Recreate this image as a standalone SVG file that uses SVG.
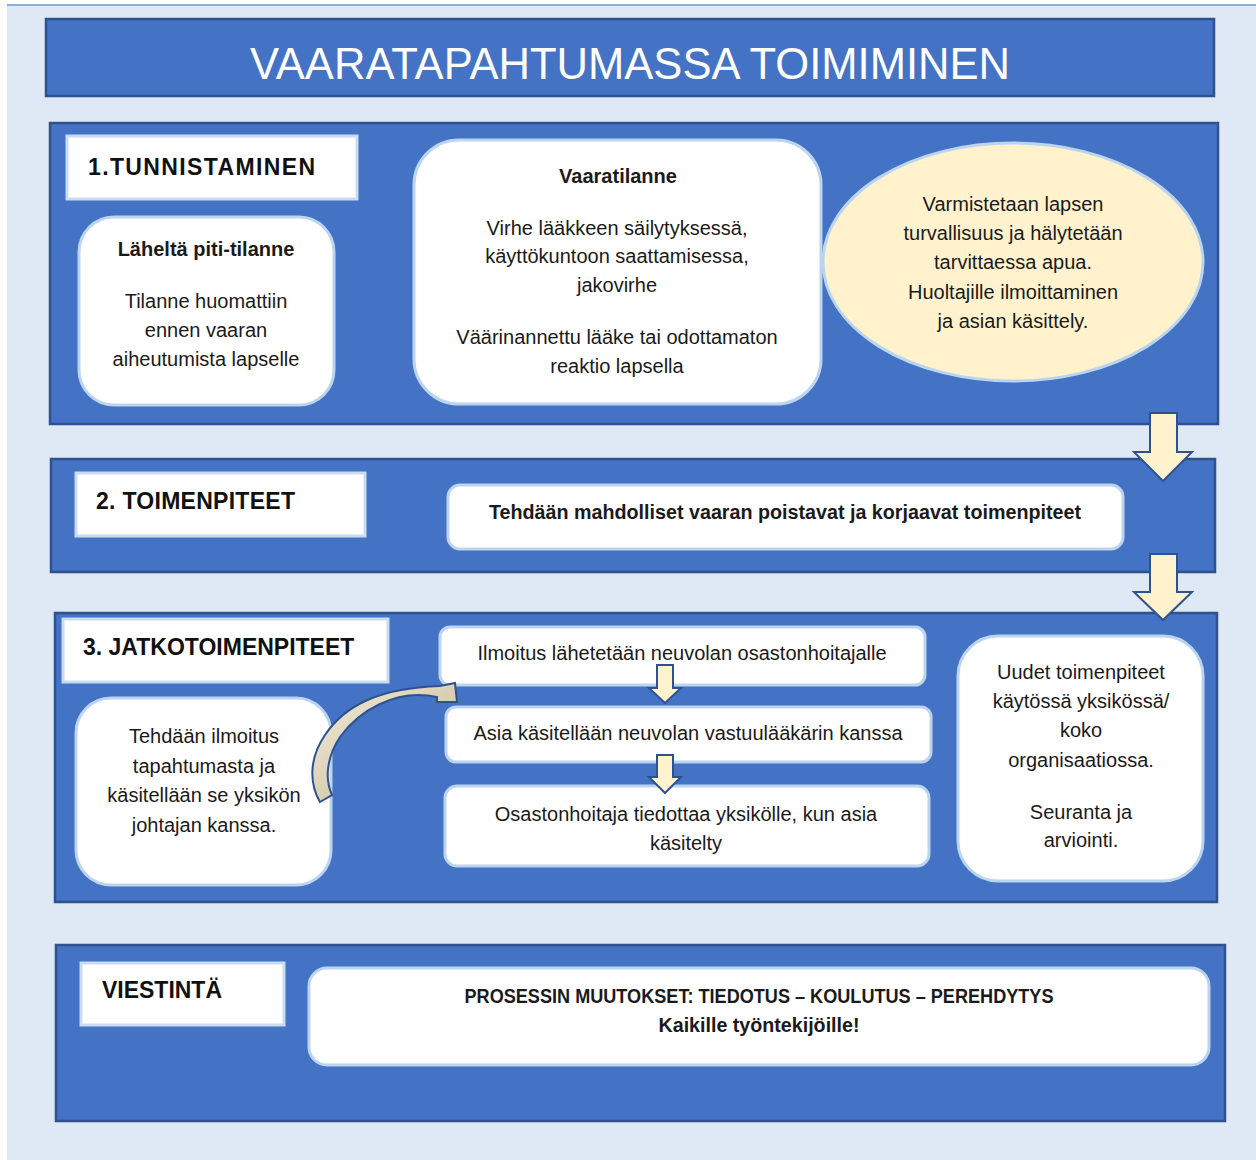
<svg xmlns="http://www.w3.org/2000/svg" width="1256" height="1160" viewBox="0 0 1256 1160">
<defs>
<style>
.sec{fill:#4472c4;stroke:#2f528f;stroke-width:2.5}
.lbl{fill:#fff;stroke:#c9dcf0;stroke-width:3}
.box{fill:#fff;stroke:#bcd5ee;stroke-width:3}
.t{font-family:"Liberation Sans",Arial,sans-serif;font-size:20px;fill:#1a1a1a;text-anchor:middle}
.b{font-weight:bold}
.h{font-family:"Liberation Sans",Arial,sans-serif;font-size:23px;font-weight:bold;fill:#111}
.arr{fill:#fff2cc;stroke:#2f528f;stroke-width:2;stroke-linejoin:miter}
</style>
<linearGradient id="cg" x1="0" y1="0" x2="1" y2="1">
<stop offset="0" stop-color="#f3ecd9"/>
<stop offset="1" stop-color="#c2b593"/>
</linearGradient>
</defs>
<rect x="0" y="0" width="1256" height="1160" fill="#ffffff"/>
<rect x="7" y="4" width="1249" height="1156" fill="#dee9f5"/>
<rect x="7" y="4" width="1249" height="2" fill="#8ab0dc"/>

<g id="title">
<rect class="sec" x="46" y="19" width="1168" height="77"/>
<text x="630" y="79" font-family="'Liberation Sans',Arial,sans-serif" font-size="44" fill="#fff" text-anchor="middle" textLength="760" lengthAdjust="spacingAndGlyphs">VAARATAPAHTUMASSA TOIMIMINEN</text>
</g>

<g id="section1">
<rect class="sec" x="50" y="123" width="1168" height="301"/>
<rect class="lbl" x="67" y="136" width="290" height="63"/>
<text class="h" x="88" y="175" textLength="227">1.TUNNISTAMINEN</text>
</g>
<g id="laheltapiti">
<rect class="box" x="79" y="217" width="255" height="188" rx="35"/>
<text class="t b" x="206" y="256">Läheltä piti-tilanne</text>
<text class="t" x="206" y="308">Tilanne huomattiin</text>
<text class="t" x="206" y="337">ennen vaaran</text>
<text class="t" x="206" y="366">aiheutumista lapselle</text>
</g>
<g id="vaaratilanne">
<rect class="box" x="414" y="140" width="407" height="264" rx="45"/>
<text class="t b" x="618" y="183">Vaaratilanne</text>
<text class="t" x="617" y="235">Virhe lääkkeen säilytyksessä,</text>
<text class="t" x="617" y="263">käyttökuntoon saattamisessa,</text>
<text class="t" x="617" y="292">jakovirhe</text>
<text class="t" x="617" y="344">Väärinannettu lääke tai odottamaton</text>
<text class="t" x="617" y="373">reaktio lapsella</text>
</g>
<g id="varmistetaan">
<ellipse cx="1013" cy="262" rx="190" ry="119" fill="#fff2cc" stroke="#bcd5ee" stroke-width="3"/>
<text class="t" x="1013" y="211">Varmistetaan lapsen</text>
<text class="t" x="1013" y="240">turvallisuus ja hälytetään</text>
<text class="t" x="1013" y="269">tarvittaessa apua.</text>
<text class="t" x="1013" y="299">Huoltajille ilmoittaminen</text>
<text class="t" x="1013" y="328">ja asian käsittely.</text>
</g>

<g id="section2">
<rect class="sec" x="51" y="459" width="1164" height="113"/>
<rect class="lbl" x="76" y="473" width="289" height="63"/>
<text class="h" x="96" y="509" textLength="199">2. TOIMENPITEET</text>
</g>
<g id="toimenpiteet">
<rect class="box" x="448" y="485" width="675" height="64" rx="12"/>
<text class="t b" x="785" y="519" textLength="592" lengthAdjust="spacingAndGlyphs">Tehdään mahdolliset vaaran poistavat ja korjaavat toimenpiteet</text>
</g>

<g id="section3">
<rect class="sec" x="55" y="613" width="1162" height="289"/>
<rect class="lbl" x="63" y="619" width="325" height="63"/>
<text class="h" x="83" y="655">3. JATKOTOIMENPITEET</text>
</g>
<g id="ilmoitus-yksikko">
<rect class="box" x="76" y="698" width="255" height="187" rx="35"/>
<text class="t" x="204" y="743">Tehdään ilmoitus</text>
<text class="t" x="204" y="773">tapahtumasta ja</text>
<text class="t" x="204" y="802">käsitellään se yksikön</text>
<text class="t" x="204" y="832">johtajan kanssa.</text>
</g>
<g id="osastonhoitajalle">
<rect class="box" x="440" y="627" width="485" height="58" rx="10"/>
<text class="t" x="682" y="660">Ilmoitus lähetetään neuvolan osastonhoitajalle</text>
</g>
<g id="vastuulaakari">
<rect class="box" x="446" y="707" width="485" height="55" rx="10"/>
<text class="t" x="688" y="740">Asia käsitellään neuvolan vastuulääkärin kanssa</text>
</g>
<g id="tiedottaa">
<rect class="box" x="445" y="786" width="484" height="80" rx="12"/>
<text class="t" x="686" y="821">Osastonhoitaja tiedottaa yksikölle, kun asia</text>
<text class="t" x="686" y="850">käsitelty</text>
</g>
<g id="uudet">
<rect class="box" x="958" y="636" width="245" height="245" rx="40"/>
<text class="t" x="1081" y="679">Uudet toimenpiteet</text>
<text class="t" x="1081" y="708">käytössä yksikössä/</text>
<text class="t" x="1081" y="737">koko</text>
<text class="t" x="1081" y="767">organisaatiossa.</text>
<text class="t" x="1081" y="819">Seuranta ja</text>
<text class="t" x="1081" y="847">arviointi.</text>
</g>

<g id="section4">
<rect class="sec" x="56" y="945" width="1169" height="176"/>
<rect class="lbl" x="81" y="963" width="203" height="62"/>
<text class="h" x="102" y="998" textLength="120" lengthAdjust="spacingAndGlyphs">VIESTINTÄ</text>
</g>
<g id="viestinta">
<rect class="box" x="309" y="968" width="900" height="97" rx="18"/>
<text class="t b" x="759" y="1003" font-size="19" textLength="589" lengthAdjust="spacingAndGlyphs">PROSESSIN MUUTOKSET: TIEDOTUS – KOULUTUS – PEREHDYTYS</text>
<text class="t b" x="759" y="1032" font-size="19" textLength="201" lengthAdjust="spacingAndGlyphs">Kaikille työntekijöille!</text>
</g>

<g id="connectors">
<polygon class="arr" points="1150,413 1177,413 1177,452 1192,452 1163,481 1134,452 1150,452"/>
<polygon class="arr" points="1150,554 1177,554 1177,592 1192,592 1163,620 1134,592 1150,592"/>
<polygon class="arr" points="657,665 673,665 673,688 681,688 665,703 649,688 657,688"/>
<polygon class="arr" points="657,755 673,755 673,777 681,777 665,793 649,777 657,777"/>
<path d="M320,802 C310,785 308,760 325,735 C345,705 380,688 440,686 L455,683 L457,702 L437,702 L437,697 C395,688 358,712 340,737 C326,758 325,780 332,795 Z" fill="url(#cg)" stroke="#2f528f" stroke-width="2" stroke-linejoin="miter"/>
</g>
</svg>
